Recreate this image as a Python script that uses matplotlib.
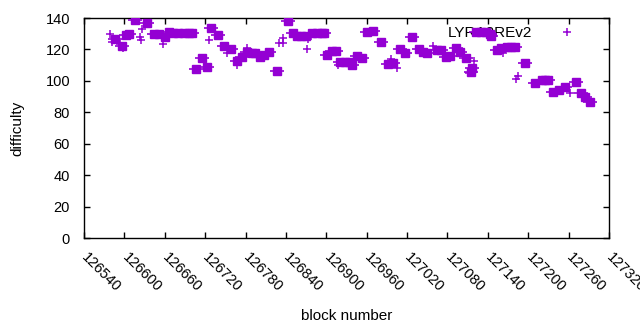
import matplotlib
matplotlib.use("Agg")
import matplotlib.pyplot as plt
import numpy as np

plt.rcParams["font.family"] = ["Liberation Sans", "DejaVu Sans"]
plt.rcParams["font.size"] = 11

# tight clusters of blocks (drawn as filled blobs)
dense_block = [126586, 126597, 126602, 126607, 126616, 126633, 126644, 126651,
               126661, 126666, 126672, 126680, 126688, 126696, 126700, 126707,
               126715, 126722, 126729, 126739, 126748, 126759, 126768, 126774,
               126782, 126789, 126794, 126801, 126808, 126815, 126826, 126843,
               126851, 126856, 126863, 126870, 126879, 126886, 126893, 126897,
               126901, 126908, 126915, 126921, 126928, 126934, 126938, 126945,
               126953, 126961, 126970, 126981, 126992, 126999, 127009, 127017,
               127027, 127037, 127044, 127050, 127064, 127070, 127078, 127084,
               127092, 127099, 127107, 127115, 127117, 127123, 127130, 127137,
               127143, 127144, 127153, 127160, 127168, 127174, 127180, 127195,
               127210, 127220, 127225, 127230, 127237, 127245, 127255, 127271,
               127279, 127284, 127292]
dense_diff = [126.4, 122.4, 129.2, 129.6, 138.7, 137.0, 129.6, 129.6,
              128.1, 131.2, 130.2, 130.2, 130.2, 130.2, 130.2, 107.4,
              114.4, 109.0, 133.8, 129.0, 122.0, 120.0, 112.6, 115.0,
              118.6, 117.5, 117.5, 115.4, 116.5, 118.2, 106.0, 138.1,
              130.2, 128.5, 128.5, 128.5, 130.2, 130.2, 130.2, 130.2,
              116.5, 119.0, 119.0, 112.2, 112.2, 112.2, 110.0, 115.8,
              114.4, 131.0, 131.7, 124.5, 110.7, 111.6, 120.0, 118.0,
              127.8, 120.0, 118.6, 117.5, 119.6, 119.6, 115.4, 115.8,
              120.7, 118.6, 114.4, 105.9, 108.0, 131.0, 131.0, 131.0,
              130.0, 128.7, 119.6, 120.7, 121.7, 121.7, 121.7, 111.2,
              98.4, 100.5, 100.5, 100.5, 93.1, 94.2, 96.3, 99.5,
              92.0, 89.9, 86.4]

# single blocks
single_block = [126578, 126582, 126589, 126592, 126598, 126623, 126625, 126626,
                126657, 126726, 126753, 126768, 126782, 126830, 126835, 126836,
                126872, 126873, 126918, 126996, 127005, 127058, 127112, 127119,
                127163, 127182, 127185, 127262]
single_diff = [129.6, 124.9, 125.6, 124.3, 120.7, 128.1, 126.0, 132.8,
               123.5, 125.8, 118.0, 109.9, 120.7, 123.9, 127.0, 124.3,
               120.0, 126.4, 110.0, 113.7, 108.0, 122.5, 105.2, 112.8,
               118.0, 101.0, 103.0, 92.0]

color = "#9400d3"

fig = plt.figure(figsize=(6.4, 3.3), dpi=100)
ax = fig.add_axes([84 / 640, 1 - 238 / 330, 525 / 640, 220 / 330])

ax.plot(dense_block, dense_diff, ls="none", marker="s", ms=5.4, color=color,
        mec=color, zorder=3)
ax.plot(dense_block, dense_diff, ls="none", marker="_", ms=9.5, mew=1.2,
        color=color, zorder=3)
ax.plot(single_block, single_diff, ls="none", marker="+", ms=6, mew=1.1,
        color=color, zorder=3, label="LYRA2REv2")

ax.set_xlim(126540, 127320)
ax.set_ylim(0, 140)
ax.set_xticks(np.arange(126540, 127321, 60))
ax.set_yticks(np.arange(0, 141, 20))
ax.tick_params(direction="in", top=True, right=True, length=4, width=1,
               labelsize=10.5, colors="black")
ax.tick_params(axis="y", pad=10)
ax.tick_params(axis="x", pad=12.5)
for lbl in ax.get_xticklabels():
    lbl.set_rotation(-45)
    lbl.set_ha("left")
    lbl.set_va("center")
    lbl.set_rotation_mode("anchor")
for s in ax.spines.values():
    s.set_linewidth(1)
    s.set_color("black")

ax.set_xlabel("block number", fontsize=11, va="center")
ax.xaxis.set_label_coords(0.5, -78 / 220)
ax.set_ylabel("difficulty", fontsize=11, va="center")
ax.yaxis.set_label_coords(-67 / 525, 0.5)

leg = ax.legend(loc="upper right", markerfirst=False, frameon=False,
                bbox_to_anchor=(0.9733, 0.991), handlelength=2.9,
                handletextpad=0.8, borderaxespad=0.0, fontsize=11)
leg.set_zorder(2)

fig.savefig("out.png", dpi=100)
